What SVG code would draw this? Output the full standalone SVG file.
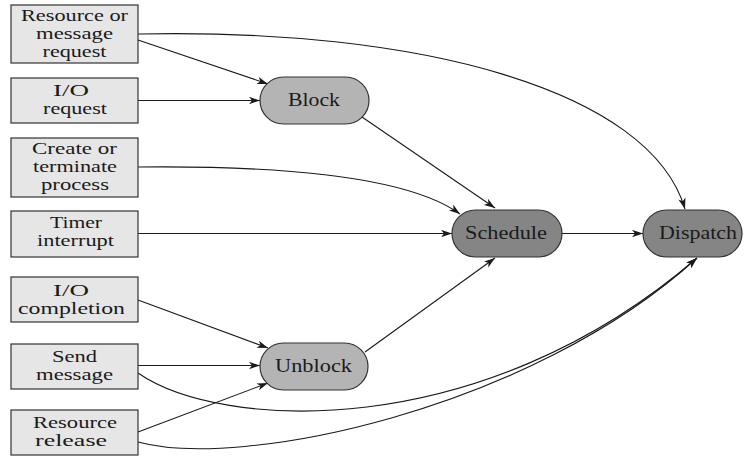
<svg xmlns="http://www.w3.org/2000/svg" width="745" height="456" viewBox="0 0 745 456">
<style>
.box{fill:#e6e6e6;stroke:#333;stroke-width:1.2}
.n1{fill:#b4b4b4;stroke:#333;stroke-width:1.2}
.n2{fill:#858585;stroke:#333;stroke-width:1.2}
.bt{font-family:"Liberation Serif","Times New Roman",serif;font-size:16.5px;fill:#1a1a1a;text-anchor:middle}
.nt{font-family:"Liberation Serif","Times New Roman",serif;font-size:19px;fill:#1a1a1a;text-anchor:middle}
.c{fill:none;stroke:#1a1a1a;stroke-width:1.1;marker-end:url(#ah)}
</style>
<defs>
<marker id="ah" markerUnits="userSpaceOnUse" markerWidth="12" markerHeight="8" refX="11" refY="4" orient="auto">
<path d="M0,0.3 L11,4 L0,7.7 L3,4 z" fill="#1a1a1a"/>
</marker>
</defs>
<rect width="745" height="456" fill="#fff"/>
<g id="connectors">
<path class="c" d="M138,40 L268,84"/>
<path class="c" d="M138,100.5 L260,100.5"/>
<path class="c" d="M138,34 C420,28 650,90 685,209"/>
<path class="c" d="M362,117 L495,208"/>
<path class="c" d="M138,167 C330,165 420,185 460,214"/>
<path class="c" d="M138,233.5 L452,233.5"/>
<path class="c" d="M562,233.5 L643,233.5"/>
<path class="c" d="M138,300 L268,348"/>
<path class="c" d="M138,365.5 L260,365.5"/>
<path class="c" d="M138,432 L268,383"/>
<path class="c" d="M365,352 L495,258"/>
<path class="c" d="M138,373 C220,430 480,445 697,258"/>
<path class="c" d="M138,442 C240,470 530,410 697,258"/>
</g>
<g id="box-resource-request">
<rect class="box" x="11" y="5" width="127" height="58"/>
<text class="bt" x="74.5" y="21" textLength="107" lengthAdjust="spacingAndGlyphs">Resource or</text>
<text class="bt" x="74.5" y="39" textLength="77" lengthAdjust="spacingAndGlyphs">message</text>
<text class="bt" x="74.5" y="57" textLength="64" lengthAdjust="spacingAndGlyphs">request</text>
</g>
<g id="box-io-request">
<rect class="box" x="11" y="78" width="127" height="45"/>
<text class="bt" x="71" y="96" textLength="36" lengthAdjust="spacingAndGlyphs">I/O</text>
<text class="bt" x="75" y="114" textLength="64" lengthAdjust="spacingAndGlyphs">request</text>
</g>
<g id="box-create">
<rect class="box" x="11" y="138" width="127" height="59"/>
<text class="bt" x="74.5" y="154" textLength="85" lengthAdjust="spacingAndGlyphs">Create or</text>
<text class="bt" x="75" y="172" textLength="84" lengthAdjust="spacingAndGlyphs">terminate</text>
<text class="bt" x="75" y="190" textLength="68" lengthAdjust="spacingAndGlyphs">process</text>
</g>
<g id="box-timer">
<rect class="box" x="11" y="211" width="127" height="46"/>
<text class="bt" x="76" y="228" textLength="52" lengthAdjust="spacingAndGlyphs">Timer</text>
<text class="bt" x="75.5" y="246" textLength="77" lengthAdjust="spacingAndGlyphs">interrupt</text>
</g>
<g id="box-io-completion">
<rect class="box" x="11" y="277" width="127" height="45"/>
<text class="bt" x="71" y="296" textLength="36" lengthAdjust="spacingAndGlyphs">I/O</text>
<text class="bt" x="71.5" y="314" textLength="107" lengthAdjust="spacingAndGlyphs">completion</text>
</g>
<g id="box-send">
<rect class="box" x="11" y="344" width="127" height="45"/>
<text class="bt" x="74.5" y="362" textLength="45" lengthAdjust="spacingAndGlyphs">Send</text>
<text class="bt" x="74.5" y="380" textLength="77" lengthAdjust="spacingAndGlyphs">message</text>
</g>
<g id="box-release">
<rect class="box" x="11" y="410" width="127" height="45"/>
<text class="bt" x="75" y="428" textLength="84" lengthAdjust="spacingAndGlyphs">Resource</text>
<text class="bt" x="71" y="446" textLength="72" lengthAdjust="spacingAndGlyphs">release</text>
</g>
<g id="node-block">
<rect class="n1" x="260" y="77" width="109" height="47" rx="23.5"/>
<text class="nt" x="314" y="106" textLength="52" lengthAdjust="spacingAndGlyphs">Block</text>
</g>
<g id="node-unblock">
<rect class="n1" x="260" y="343" width="108" height="47" rx="23.5"/>
<text class="nt" x="313.5" y="372" textLength="77" lengthAdjust="spacingAndGlyphs">Unblock</text>
</g>
<g id="node-schedule">
<rect class="n2" x="452" y="210" width="110" height="47" rx="23.5"/>
<text class="nt" x="506" y="239" textLength="82" lengthAdjust="spacingAndGlyphs">Schedule</text>
</g>
<g id="node-dispatch">
<rect class="n2" x="643" y="210" width="99" height="47" rx="23.5"/>
<text class="nt" x="698" y="239" textLength="78" lengthAdjust="spacingAndGlyphs">Dispatch</text>
</g>
</svg>
